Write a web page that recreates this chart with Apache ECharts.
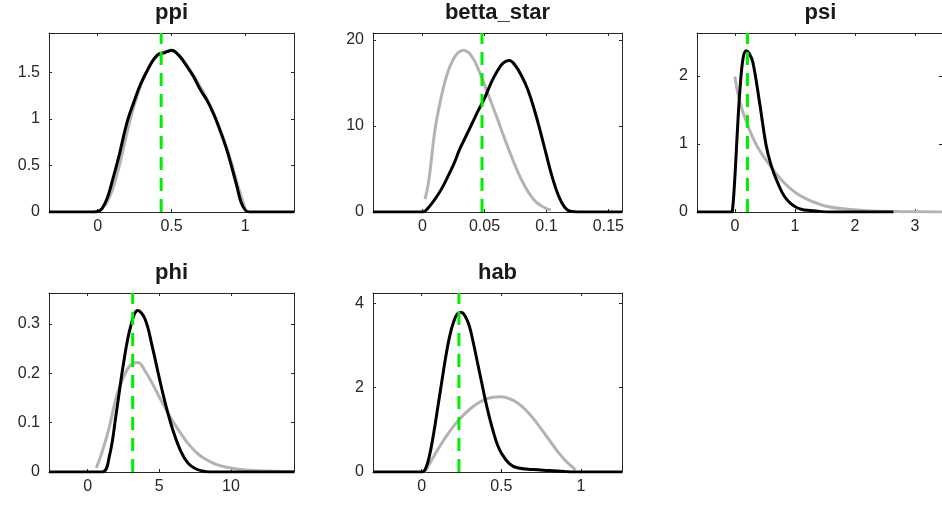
<!DOCTYPE html>
<html>
<head>
<meta charset="utf-8">
<script src="https://cdn.jsdelivr.net/npm/echarts@6/dist/echarts.min.js"></script>
<style>
html, body { margin: 0; padding: 0; background: #fff; }
#chart { width: 942px; height: 511px; }
</style>
</head>
<body>
<div id="chart"></div>
<script>
// panel names
const titles = ['ppi', 'betta_star', 'psi', 'phi', 'hab'];

// prior (grey) and posterior (black) densities, [x, density]
const ppiPrior = [[0,0],[0.05,0.07],[0.1,0.24],[0.15,0.52],[0.2,0.86],[0.25,1.16],[0.3,1.39],[0.35,1.56],[0.4,1.67],[0.45,1.72],[0.5,1.73],[0.55,1.68],[0.6,1.58],[0.65,1.46],[0.7,1.33],[0.75,1.18],[0.8,1.0],[0.85,0.8],[0.9,0.56],[0.95,0.28],[1.0,0.03]];
const ppiPost = [[-0.33,0],[-0.03,0],[0,0.005],[0.03,0.04],[0.065,0.15],[0.1,0.34],[0.144,0.6],[0.2,0.97],[0.25,1.2],[0.29,1.37],[0.34,1.53],[0.38,1.64],[0.42,1.7],[0.445,1.705],[0.47,1.72],[0.5,1.735],[0.55,1.68],[0.606,1.56],[0.65,1.45],[0.696,1.31],[0.74,1.2],[0.786,1.05],[0.83,0.87],[0.876,0.66],[0.91,0.47],[0.944,0.27],[0.97,0.11],[1.0,0.02],[1.03,0],[1.33,0]];

const bettaPrior = [[0.002,1.5],[0.005,3.6],[0.01,9.5],[0.015,13.3],[0.02,16.1],[0.025,17.8],[0.029,18.55],[0.033,18.8],[0.037,18.55],[0.041,17.8],[0.045,16.6],[0.05,14.8],[0.055,12.9],[0.06,11.0],[0.065,9.0],[0.07,7.1],[0.075,5.3],[0.08,3.7],[0.085,2.4],[0.09,1.4],[0.095,0.8],[0.1,0.4],[0.1035,0.25]];
const bettaPost = [[-0.04,0],[0,0],[0.005,0.55],[0.01,1.5],[0.015,2.6],[0.02,4.0],[0.025,5.5],[0.03,7.3],[0.035,8.8],[0.04,10.3],[0.045,11.8],[0.05,13.2],[0.055,14.9],[0.06,16.3],[0.065,17.3],[0.07,17.6],[0.075,17.0],[0.08,15.8],[0.085,14.2],[0.09,12.0],[0.095,9.4],[0.1,6.6],[0.105,3.9],[0.11,1.8],[0.115,0.5],[0.12,0.05],[0.125,0],[0.161,0]];

const psiPrior = [[0,1.99],[0.083,1.62],[0.19,1.33],[0.36,0.985],[0.58,0.69],[0.8,0.45],[1.07,0.25],[1.46,0.1],[1.84,0.044],[2.3,0.015],[2.8,0.005],[3.45,0.001]];
const psiPost = [[-0.63,0],[-0.06,0],[-0.04,0.02],[0,0.5],[0.04,1.15],[0.083,1.77],[0.137,2.26],[0.19,2.37],[0.24,2.33],[0.3,2.2],[0.41,1.62],[0.52,0.985],[0.6,0.7],[0.69,0.48],[0.85,0.2],[1.07,0.05],[1.35,0.015],[1.6,0],[2.64,0]];

const phiPrior = [[0.6,0.008],[1.0,0.04],[1.5,0.09],[2.0,0.152],[2.5,0.192],[3.0,0.217],[3.5,0.222],[4.0,0.205],[4.5,0.18],[5.0,0.152],[5.5,0.125],[6.0,0.1],[6.5,0.078],[7.0,0.058],[7.5,0.042],[8.0,0.03],[9.0,0.015],[10.0,0.008],[11.0,0.004],[12.5,0.002],[14.4,0.001]];
const phiPost = [[-2.7,0],[1.0,0],[1.5,0.03],[2.0,0.12],[2.5,0.22],[3.0,0.295],[3.5,0.327],[4.0,0.31],[4.5,0.255],[5.0,0.19],[5.5,0.13],[6.0,0.08],[6.5,0.042],[7.0,0.018],[7.5,0.007],[8.0,0.002],[8.5,0],[14.4,0]];

const habPrior = [[0.02,0],[0.05,0.2],[0.1,0.52],[0.15,0.82],[0.2,1.08],[0.25,1.3],[0.3,1.48],[0.35,1.62],[0.4,1.72],[0.45,1.77],[0.5,1.78],[0.55,1.74],[0.6,1.64],[0.65,1.48],[0.7,1.27],[0.75,1.02],[0.8,0.76],[0.85,0.5],[0.9,0.28],[0.95,0.1],[0.965,0.05]];
const habPost = [[-0.305,0],[0,0],[0.025,0.08],[0.05,0.4],[0.075,0.9],[0.1,1.5],[0.125,2.1],[0.15,2.7],[0.175,3.2],[0.2,3.55],[0.225,3.75],[0.25,3.78],[0.275,3.68],[0.3,3.45],[0.325,3.05],[0.35,2.6],[0.375,2.15],[0.4,1.7],[0.425,1.3],[0.45,0.95],[0.475,0.65],[0.5,0.45],[0.55,0.2],[0.6,0.1],[0.7,0.06],[0.8,0.035],[0.9,0.01],[0.95,0],[1.257,0]];

// posterior mode (green dashed line)
const modes = [0.43, 0.048, 0.21, 3.14, 0.234];

// tick labels
const xTicks = [[0,0.5,1],[0,0.05,0.1,0.15],[0,1,2,3],[0,5,10],[0,0.5,1]];
const yTicks = [[0,0.5,1,1.5],[0,10,20],[0,1,2],[0,0.1,0.2,0.3],[0,2,4]];

// axis ranges
const xRange = [[-0.33,1.33],[-0.04,0.161],[-0.63,3.45],[-2.7,14.4],[-0.305,1.257]];
const yMax = [1.92, 20.8, 2.63, 0.3626, 4.24];

const priors = [ppiPrior, bettaPrior, psiPrior, phiPrior, habPrior];
const posts = [ppiPost, bettaPost, psiPost, phiPost, habPost];

// panel boxes in px: left, top, width, height
const boxes = [[49,33,245,179],[373,33,249,179],[697,33,247,179],[49,293,245,179],[373,293,249,179]];

const axisColor = '#262626';
const font = 'Liberation Sans, Arial, Helvetica, sans-serif';

let grid = [], xAxis = [], yAxis = [], series = [], graphic = [];

boxes.forEach(function (b, i) {
    grid.push({ left: b[0], top: b[1], width: b[2], height: b[3] });

    ['bottom', 'top'].forEach(function (pos) {
        xAxis.push({
            gridIndex: i, type: 'value', position: pos,
            min: xRange[i][0], max: xRange[i][1],
            axisLine: { show: true, onZero: false, lineStyle: { color: axisColor, width: 1 } },
            axisTick: { show: true, inside: true, length: 3, customValues: xTicks[i], lineStyle: { color: axisColor } },
            axisLabel: {
                show: pos === 'bottom', customValues: xTicks[i], margin: 7,
                color: axisColor, fontSize: 16, fontFamily: font
            },
            splitLine: { show: false }
        });
    });
    ['left', 'right'].forEach(function (pos) {
        yAxis.push({
            gridIndex: i, type: 'value', position: pos,
            min: 0, max: yMax[i],
            axisLine: { show: true, onZero: false, lineStyle: { color: axisColor, width: 1 } },
            axisTick: { show: true, inside: true, length: 3, customValues: yTicks[i], lineStyle: { color: axisColor } },
            axisLabel: {
                show: pos === 'left', customValues: yTicks[i], margin: 9,
                color: axisColor, fontSize: 16, fontFamily: font
            },
            splitLine: { show: false }
        });
    });

    // prior
    series.push({
        type: 'line', xAxisIndex: 2 * i, yAxisIndex: 2 * i,
        data: priors[i], showSymbol: false, smooth: 0.4,
        lineStyle: { color: '#b3b3b3', width: 3 }
    });
    // posterior
    series.push({
        type: 'line', xAxisIndex: 2 * i, yAxisIndex: 2 * i,
        data: posts[i], showSymbol: false, smooth: 0.4,
        lineStyle: { color: '#000000', width: 3 }
    });
    // mode
    series.push({
        type: 'line', xAxisIndex: 2 * i, yAxisIndex: 2 * i,
        data: [[modes[i], 0], [modes[i], yMax[i]]], showSymbol: false,
        lineStyle: { color: '#00ee00', width: 3, type: [13, 8] }
    });

    graphic.push({
        type: 'text',
        x: b[0] + b[2] / 2,
        y: b[1] - 20,
        style: {
            text: titles[i], align: 'center', verticalAlign: 'middle',
            font: 'bold 22px ' + font, fill: '#1a1a1a'
        }
    });
});

const chart = echarts.init(document.getElementById('chart'));
chart.setOption({
    animation: false,
    backgroundColor: '#ffffff',
    grid: grid,
    xAxis: xAxis,
    yAxis: yAxis,
    series: series,
    graphic: graphic
});
</script>
</body>
</html>
